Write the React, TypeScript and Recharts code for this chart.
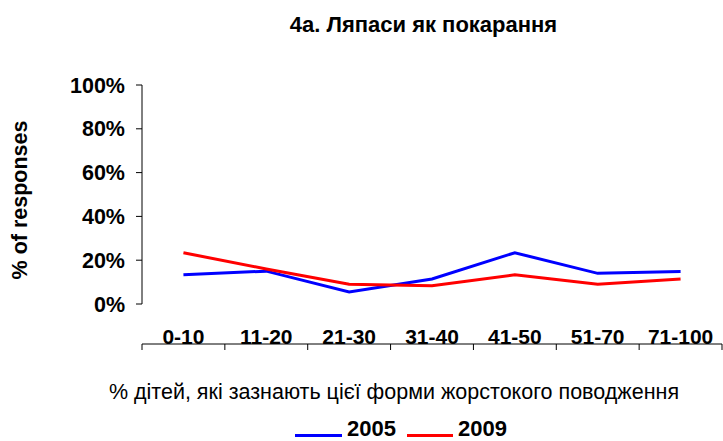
import React from 'react';
import { LineChart, Line, XAxis, YAxis } from 'recharts';

const categories = ['0-10', '11-20', '21-30', '31-40', '41-50', '51-70', '71-100'];
const series2005 = [13.3, 15, 5.5, 11.4, 23.4, 14, 14.8];
const series2009 = [23.4, 16, 9, 8.3, 13.3, 9, 11.4];
const yTicks = [0, 20, 40, 60, 80, 100];

const data = categories.map((c, i) => ({
  x: i + 0.5,
  name: c,
  y2005: series2005[i],
  y2009: series2009[i],
}));

const boundaryTicks = categories.map((_, i) => i).concat([categories.length]);
const centerTicks = categories.map((_, i) => i + 0.5);

const FONT = '"Liberation Sans", Arial, sans-serif';

export default function App() {
  return (
    <div style={{ position: 'absolute', left: 0, top: 0, width: 723, height: 441, fontFamily: FONT, background: '#fff', overflow: 'hidden' }}>
      <div style={{ position: 'absolute', left: 0, width: 723, top: 12, textAlign: 'center', paddingLeft: 124, boxSizing: 'border-box', fontWeight: 'bold', fontSize: 22, lineHeight: '26px' }}>
        4а. Ляпаси як покарання
      </div>
      <div style={{ position: 'absolute', left: 20, top: 200, transform: 'translate(-50%, -50%) rotate(-90deg)', whiteSpace: 'nowrap', fontWeight: 'bold', fontSize: 21.5, lineHeight: '24px' }}>
        % of responses
      </div>
      <LineChart width={723} height={441} data={data} margin={{ top: 85, right: 1, left: 0, bottom: 96 }}>
        <YAxis
          width={142}
          domain={[0, 100]}
          ticks={yTicks}
          interval={0}
          tickFormatter={(v: number) => v + '%'}
          axisLine={{ stroke: '#000' }}
          tickLine={{ stroke: '#000' }}
          tickSize={6}
          tickMargin={11}
          tick={{ fill: '#000', fontWeight: 'bold', fontSize: 21.5, fontFamily: FONT }}
        />
        <XAxis
          xAxisId="t"
          dataKey="x"
          type="number"
          domain={[0, categories.length]}
          ticks={boundaryTicks}
          interval={0}
          height={1}
          tickFormatter={() => ''}
          axisLine={{ stroke: '#000' }}
          tickLine={{ stroke: '#000' }}
          tickSize={6}
        />
        <XAxis
          xAxisId="l"
          dataKey="x"
          type="number"
          domain={[0, categories.length]}
          ticks={centerTicks}
          interval={0}
          height={40}
          tickFormatter={(v: number) => categories[Math.floor(v)]}
          axisLine={false}
          tickLine={false}
          tickSize={6}
          tickMargin={19}
          tick={{ fill: '#000', fontWeight: 'bold', fontSize: 21, fontFamily: FONT }}
        />
        <Line xAxisId="t" dataKey="y2005" stroke="#0000ff" strokeWidth={3} dot={false} isAnimationActive={false} />
        <Line xAxisId="t" dataKey="y2009" stroke="#ff0000" strokeWidth={3} dot={false} isAnimationActive={false} />
      </LineChart>
      <div style={{ position: 'absolute', left: 0, width: 723, top: 380, textAlign: 'center', paddingLeft: 65, boxSizing: 'border-box', fontSize: 21.5, lineHeight: '24px', whiteSpace: 'nowrap' }}>
        % дітей, які зазнають цієї форми жорстокого поводження
      </div>
      <div style={{ position: 'absolute', left: 295, top: 434, width: 47, height: 3, background: '#0000ff' }} />
      <div style={{ position: 'absolute', left: 347, top: 418, fontWeight: 'bold', fontSize: 22, lineHeight: '22px' }}>2005</div>
      <div style={{ position: 'absolute', left: 407, top: 434, width: 46, height: 3, background: '#ff0000' }} />
      <div style={{ position: 'absolute', left: 458, top: 418, fontWeight: 'bold', fontSize: 22, lineHeight: '22px' }}>2009</div>
    </div>
  );
}
